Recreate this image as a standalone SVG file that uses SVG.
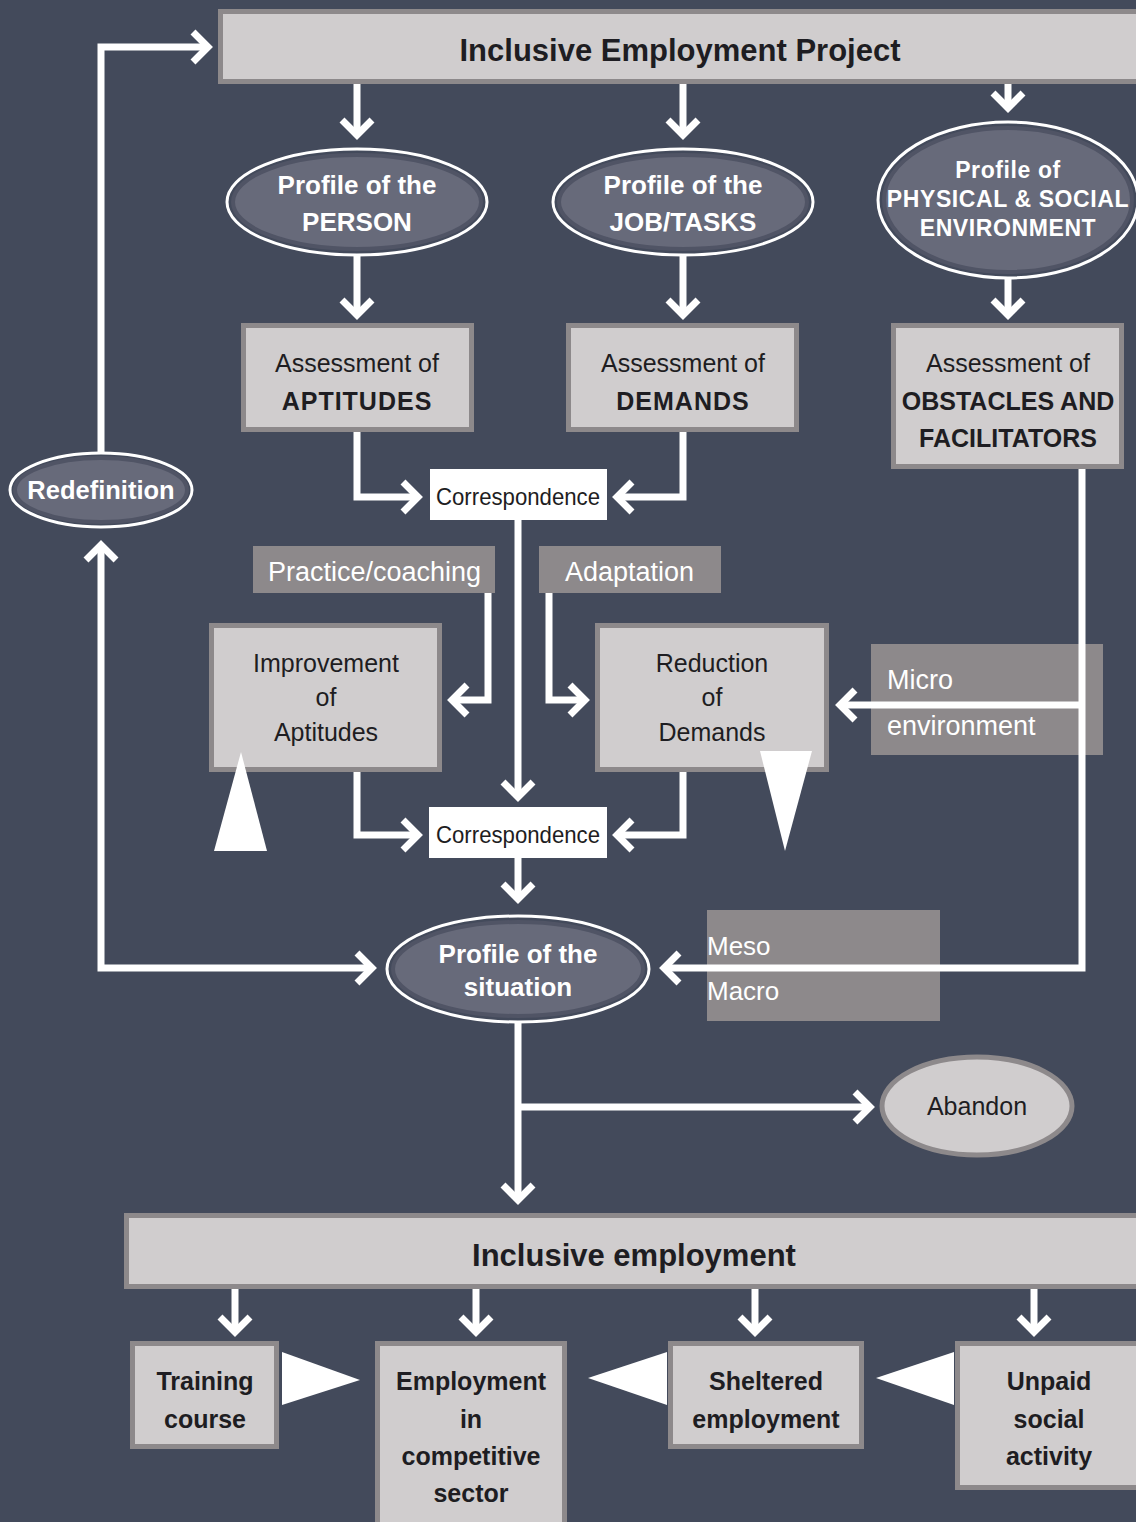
<svg xmlns="http://www.w3.org/2000/svg" width="1136" height="1522" viewBox="0 0 1136 1522">
<defs>
<style>
.bg{fill:#434a5b}
.box{fill:#d0cdce;stroke:#8d898b;stroke-width:5}
.lab{fill:#8d898b}
.corr{fill:#ffffff}
.ell{fill:#676a7a}
.ellin{fill:none;stroke:#505465;stroke-width:4}
.ellout{fill:none;stroke:#ffffff;stroke-width:3}
.con{fill:none;stroke:#ffffff;stroke-width:7;stroke-linejoin:miter}
.tri{fill:#ffffff}
text{font-family:"Liberation Sans","DejaVu Sans",sans-serif;text-anchor:middle}
.tb{font-weight:bold;fill:#1e1d22}
.tw{font-weight:bold;fill:#ffffff}
.tr{fill:#1e1d22}
.tl{fill:#ffffff;text-anchor:start}
</style>
<marker id="ah" markerUnits="userSpaceOnUse" viewBox="-20 -20 40 40" markerWidth="40" markerHeight="40" refX="0" refY="0" orient="auto-start-reverse" overflow="visible">
<path d="M-15,-15 L0,0 L-15,15" fill="none" stroke="#ffffff" stroke-width="7"/>
</marker>
</defs>
<rect class="bg" x="0" y="0" width="1136" height="1522"/>

<g id="labels">
<g id="lab-practice"><rect class="lab" x="253" y="546" width="242" height="47"/><text class="tl" x="268" y="581" font-size="27">Practice/coaching</text></g>
<g id="lab-adaptation"><rect class="lab" x="539" y="546" width="182" height="47"/><text class="tl" x="565" y="581" font-size="27">Adaptation</text></g>
<g id="lab-micro"><rect class="lab" x="871" y="644" width="232" height="111"/><text class="tl" x="887" y="689" font-size="27">Micro</text><text class="tl" x="887" y="735" font-size="27">environment</text></g>
<g id="lab-meso"><rect class="lab" x="707" y="910" width="233" height="111"/><text class="tl" x="707" y="955" font-size="26">Meso</text><text class="tl" x="707" y="1000" font-size="26">Macro</text></g>
</g>

<g id="connectors">
<path class="con" d="M357,84 V135" marker-end="url(#ah)"/>
<path class="con" d="M683,84 V135" marker-end="url(#ah)"/>
<path class="con" d="M1008,84 V108" marker-end="url(#ah)"/>
<path class="con" d="M357,255 V315" marker-end="url(#ah)"/>
<path class="con" d="M683,255 V315" marker-end="url(#ah)"/>
<path class="con" d="M1008,278 V315" marker-end="url(#ah)"/>
<path class="con" d="M357,432 V497 H418" marker-end="url(#ah)"/>
<path class="con" d="M683,432 V497 H617" marker-end="url(#ah)"/>
<path class="con" d="M518,520 V797" marker-end="url(#ah)"/>
<path class="con" d="M488,593 V700 H452" marker-end="url(#ah)"/>
<path class="con" d="M549,593 V700 H585" marker-end="url(#ah)"/>
<path class="con" d="M357,772 V835 H418" marker-end="url(#ah)"/>
<path class="con" d="M683,772 V835 H617" marker-end="url(#ah)"/>
<path class="con" d="M518,858 V899" marker-end="url(#ah)"/>
<path class="con" d="M1082,469 V968 H664" marker-end="url(#ah)"/>
<path class="con" d="M1082,705 H840" marker-end="url(#ah)"/>
<path class="con" d="M101,452 V47 H208" marker-end="url(#ah)"/>
<path class="con" d="M101,545 V968 H372" marker-start="url(#ah)" marker-end="url(#ah)"/>
<path class="con" d="M518,1023 V1200" marker-end="url(#ah)"/>
<path class="con" d="M518,1107 H870" marker-end="url(#ah)"/>
<path class="con" d="M235,1289 V1332" marker-end="url(#ah)"/>
<path class="con" d="M476,1289 V1332" marker-end="url(#ah)"/>
<path class="con" d="M755,1289 V1332" marker-end="url(#ah)"/>
<path class="con" d="M1034,1289 V1332" marker-end="url(#ah)"/>
</g>

<g id="project"><rect class="box" x="220.5" y="11.5" width="930" height="70"/><text class="tb" x="680" y="61" font-size="31">Inclusive Employment Project</text></g>

<g id="profile-person">
<ellipse class="ellout" cx="357" cy="202" rx="130" ry="53"/>
<ellipse class="ell" cx="357" cy="202" rx="124" ry="47"/>
<ellipse class="ellin" cx="357" cy="202" rx="124" ry="47"/>
<text class="tw" x="357" y="194" font-size="26">Profile of the</text>
<text class="tw" x="357" y="231" font-size="26">PERSON</text>
</g>
<g id="profile-job">
<ellipse class="ellout" cx="683" cy="202" rx="130" ry="53"/>
<ellipse class="ell" cx="683" cy="202" rx="124" ry="47"/>
<ellipse class="ellin" cx="683" cy="202" rx="124" ry="47"/>
<text class="tw" x="683" y="194" font-size="26">Profile of the</text>
<text class="tw" x="683" y="231" font-size="26">JOB/TASKS</text>
</g>
<g id="profile-env">
<ellipse class="ellout" cx="1008" cy="200" rx="130" ry="78"/>
<ellipse class="ell" cx="1008" cy="200" rx="124" ry="72"/>
<ellipse class="ellin" cx="1008" cy="200" rx="124" ry="72"/>
<text class="tw" x="1008" y="178" font-size="23" letter-spacing="0.6">Profile of</text>
<text class="tw" x="1008" y="207" font-size="23" letter-spacing="0.6">PHYSICAL &amp; SOCIAL</text>
<text class="tw" x="1008" y="236" font-size="23" letter-spacing="0.6">ENVIRONMENT</text>
</g>

<g id="assess-aptitudes"><rect class="box" x="243.5" y="325.5" width="228" height="104"/><text class="tr" x="357" y="372" font-size="25">Assessment of</text><text class="tb" x="357" y="410" font-size="25" letter-spacing="1">APTITUDES</text></g>
<g id="assess-demands"><rect class="box" x="568.5" y="325.5" width="228" height="104"/><text class="tr" x="683" y="372" font-size="25">Assessment of</text><text class="tb" x="683" y="410" font-size="25" letter-spacing="1">DEMANDS</text></g>
<g id="assess-obstacles"><rect class="box" x="893.5" y="325.5" width="228" height="141"/><text class="tr" x="1008" y="372" font-size="25">Assessment of</text><text class="tb" x="1008" y="410" font-size="25">OBSTACLES AND</text><text class="tb" x="1008" y="447" font-size="25">FACILITATORS</text></g>

<g id="corr1"><rect class="corr" x="430" y="469" width="177" height="51"/><text class="tr" x="518" y="505" font-size="24" textLength="164" lengthAdjust="spacingAndGlyphs">Correspondence</text></g>

<g id="improvement"><rect class="box" x="211.5" y="625.5" width="228" height="144"/><text class="tr" x="326" y="672" font-size="25">Improvement</text><text class="tr" x="326" y="706" font-size="25">of</text><text class="tr" x="326" y="741" font-size="25">Aptitudes</text></g>
<g id="reduction"><rect class="box" x="597.5" y="625.5" width="229" height="144"/><text class="tr" x="712" y="672" font-size="25">Reduction</text><text class="tr" x="712" y="706" font-size="25">of</text><text class="tr" x="712" y="741" font-size="25">Demands</text></g>

<g id="corr2"><rect class="corr" x="429" y="807" width="178" height="51"/><text class="tr" x="518" y="843" font-size="24" textLength="164" lengthAdjust="spacingAndGlyphs">Correspondence</text></g>

<g id="redefinition">
<ellipse class="ellout" cx="101" cy="490" rx="91" ry="37"/>
<ellipse class="ell" cx="101" cy="490" rx="86" ry="32"/>
<ellipse class="ellin" cx="101" cy="490" rx="86" ry="32"/>
<text class="tw" x="101" y="499" font-size="25.5">Redefinition</text>
</g>

<g id="situation">
<ellipse class="ellout" cx="518" cy="969" rx="131" ry="53"/>
<ellipse class="ell" cx="518" cy="969" rx="125" ry="47"/>
<ellipse class="ellin" cx="518" cy="969" rx="125" ry="47"/>
<text class="tw" x="518" y="963" font-size="26">Profile of the</text>
<text class="tw" x="518" y="996" font-size="26">situation</text>
</g>

<g id="abandon"><ellipse class="box" cx="977" cy="1106" rx="95" ry="49"/><text class="tr" x="977" y="1115" font-size="25">Abandon</text></g>

<g id="inclusive-employment"><rect class="box" x="126.5" y="1215.5" width="1020" height="71"/><text class="tb" x="634" y="1266" font-size="31">Inclusive employment</text></g>

<g id="training"><rect class="box" x="132.5" y="1343.5" width="144" height="103"/><text class="tb" x="205" y="1390" font-size="25">Training</text><text class="tb" x="205" y="1428" font-size="25">course</text></g>
<g id="competitive"><rect class="box" x="377.5" y="1343.5" width="187" height="190"/><text class="tb" x="471" y="1390" font-size="25">Employment</text><text class="tb" x="471" y="1428" font-size="25">in</text><text class="tb" x="471" y="1465" font-size="25">competitive</text><text class="tb" x="471" y="1502" font-size="25">sector</text></g>
<g id="sheltered"><rect class="box" x="670.5" y="1343.5" width="191" height="103"/><text class="tb" x="766" y="1390" font-size="25">Sheltered</text><text class="tb" x="766" y="1428" font-size="25">employment</text></g>
<g id="unpaid"><rect class="box" x="957.5" y="1343.5" width="190" height="144"/><text class="tb" x="1049" y="1390" font-size="25">Unpaid</text><text class="tb" x="1049" y="1428" font-size="25">social</text><text class="tb" x="1049" y="1465" font-size="25">activity</text></g>

<g id="triangles">
<polygon class="tri" points="241,752 214,851 267,851"/>
<polygon class="tri" points="760,751 812,751 785,851"/>
<polygon class="tri" points="282,1352 282,1405 360,1380"/>
<polygon class="tri" points="667,1352 667,1405 588,1378"/>
<polygon class="tri" points="954,1352 954,1405 876,1378"/>
</g>
</svg>
